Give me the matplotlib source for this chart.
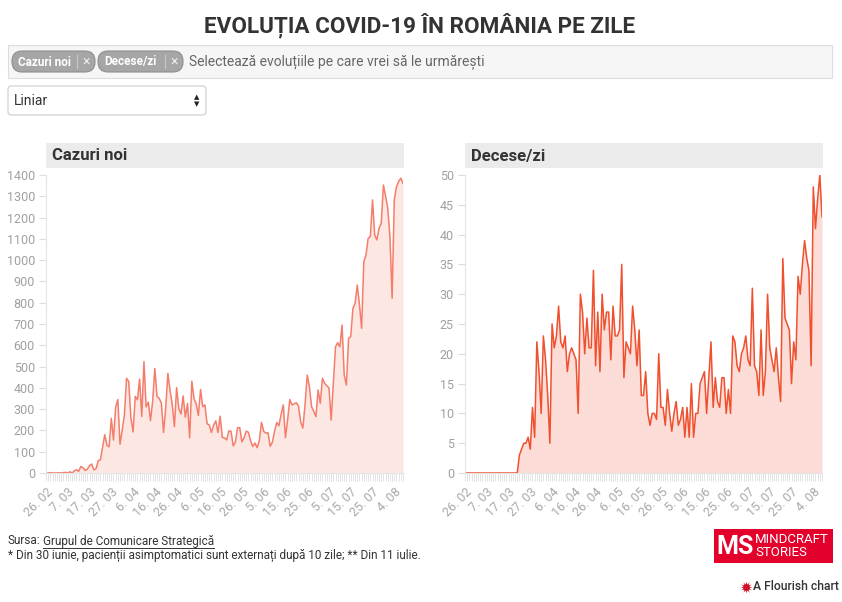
import numpy as np
import pandas as pd
import matplotlib
matplotlib.use("Agg")
import matplotlib.pyplot as plt
from matplotlib.patches import Rectangle, FancyBboxPatch

plt.rcParams['font.family'] = ['Roboto', 'DejaVu Sans']

# date zilnice, 26.02 - 8.08
start_date = "2020-02-26"

cazuri_noi = [
    1, 0, 2, 0, 0, 0, 1, 0, 2, 3,
    0, 6, 0, 10, 15, 8, 30, 25, 12, 18,
    35, 42, 15, 20, 58, 62, 120, 180, 130, 123,
    257, 155, 310, 345, 135, 200, 270, 445, 430, 260,
    193, 360, 344, 441, 265, 523, 310, 333, 246, 337,
    491, 360, 351, 328, 190, 306, 468, 386, 321, 218,
    401, 303, 277, 362, 262, 327, 165, 431, 349, 325,
    270, 392, 312, 320, 231, 226, 190, 224, 245, 190,
    267, 167, 165, 155, 198, 196, 127, 145, 213, 213,
    146, 165, 197, 191, 151, 124, 141, 119, 152, 238,
    196, 187, 189, 125, 145, 196, 237, 222, 275, 320,
    166, 250, 345, 320, 325, 330, 315, 240, 211, 320,
    460, 406, 312, 290, 265, 390, 327, 445, 421, 410,
    400, 249, 420, 593, 612, 593, 695, 460, 413, 633,
    641, 774, 797, 883, 790, 680, 993, 1024, 1103, 1110,
    1283, 1118, 1095, 1150, 1173, 1353, 1300, 1244, 1110, 821,
    1283, 1345, 1370, 1385, 1360,
]

decese_zi = [
    0, 0, 0, 0, 0, 0, 0, 0, 0, 0,
    0, 0, 0, 0, 0, 0, 0, 0, 0, 0,
    0, 0, 0, 0, 0, 3, 4, 5, 5, 6,
    4, 11, 6, 22, 17, 10, 23, 19, 13, 5,
    25, 21, 23, 28, 22, 21, 23, 17, 20, 21,
    20, 19, 10, 30, 27, 20, 26, 21, 21, 34,
    18, 27, 17, 30, 24, 27, 27, 19, 28, 23,
    23, 24, 35, 16, 22, 21, 20, 28, 24, 18,
    24, 13, 13, 17, 10, 8, 10, 10, 9, 20,
    11, 11, 8, 14, 10, 7, 10, 12, 8, 9,
    11, 6, 11, 6, 15, 6, 10, 10, 15, 16,
    17, 10, 16, 22, 11, 16, 12, 11, 16, 16,
    10, 14, 10, 23, 22, 18, 17, 20, 21, 23,
    19, 18, 31, 18, 17, 13, 24, 13, 17, 30,
    21, 19, 17, 21, 16, 12, 36, 26, 25, 24,
    15, 22, 19, 33, 30, 35, 39, 36, 34, 18,
    48, 41, 46, 50, 43,
]

W, H = 842, 602
fig = plt.figure(figsize=(W / 100, H / 100), dpi=100)
fig.patch.set_facecolor('white')


def box(x, y, w, h):
    # pixel box (top-left origin) -> figure fraction
    return [x / W, 1 - (y + h) / H, w / W, h / H]


bg = fig.add_axes([0, 0, 1, 1])
bg.set_xlim(0, W)
bg.set_ylim(H, 0)
bg.axis('off')

# titlu
bg.text(W / 2 - 1, 25, "EVOLUȚIA COVID-19 ÎN ROMÂNIA PE ZILE", ha='center', va='center',
        fontsize=16.2, fontweight='bold', color='#333333')

# caseta de filtrare
bg.add_patch(Rectangle((8, 45), 824, 33, facecolor='#f6f6f6', edgecolor='#dddddd', lw=0.8))
pills = [("Cazuri noi", 12, 83), ("Decese/zi", 98, 85)]
for label, px, pw in pills:
    bg.add_patch(FancyBboxPatch((px, 51), pw, 21, boxstyle="round,pad=0,rounding_size=10",
                                facecolor='#a6a6a6', edgecolor='#8f8f8f', lw=0.8))
    bg.text(px + 6, 62, label, ha='left', va='center', fontsize=8.5,
            fontweight='bold', color='white')
    bg.plot([px + pw - 18, px + pw - 18], [55, 68], color='#c8c8c8', lw=0.8)
    bg.text(px + pw - 9, 61.5, "×", ha='center', va='center', fontsize=10, color='#eeeeee')
bg.text(189, 62, "Selectează evoluțiile pe care vrei să le urmărești", ha='left', va='center',
        fontsize=10, color='#666666')

# dropdown
bg.add_patch(FancyBboxPatch((8, 86), 198, 29, boxstyle="round,pad=0,rounding_size=3",
                            facecolor='white', edgecolor='#cccccc', lw=0.8))
bg.text(14, 101, "Liniar", ha='left', va='center', fontsize=10, color='#333333')
bg.text(197, 97.5, "▲", ha='center', va='center', fontsize=5, color='#222222', family='DejaVu Sans')
bg.text(197, 104, "▼", ha='center', va='center', fontsize=5, color='#222222', family='DejaVu Sans')


def draw_panel(x0, title, values, ymax, ystep, line_col, fill_col):
    bg.add_patch(Rectangle((x0, 143), 358, 25, facecolor='#ebebeb', lw=0))
    bg.text(x0 + 6, 156, title, ha='left', va='center', fontsize=12,
            fontweight='bold', color='#333333')

    ax = fig.add_axes(box(x0, 175, 357, 298))
    days = np.arange(len(values))
    dates = pd.date_range(start_date, periods=len(values))
    ax.fill_between(days, values, color=fill_col, lw=0)
    ax.plot(days, values, color=line_col, lw=1.1)
    ax.set_xlim(0, len(values) - 1)
    ax.set_ylim(0, ymax)

    ax.set_yticks(np.arange(0, ymax + 1, ystep))
    major = days[::10]
    ax.set_xticks(major)
    ax.set_xticklabels([f"{d.day}. {d.month:02d}" for d in dates[::10]],
                       rotation=45, ha='right', va='top', rotation_mode='anchor')
    ax.set_xticks(days, minor=True)

    ax.tick_params(axis='y', length=5, color='#dddddd', labelcolor='#a0a0a0',
                   labelsize=9, pad=3)
    ax.tick_params(axis='x', which='both', length=6, width=0.6, color='#dedede',
                   labelcolor='#a8a8a8', labelsize=9, pad=3)
    for side in ('top', 'right'):
        ax.spines[side].set_visible(False)
    for side in ('left', 'bottom'):
        ax.spines[side].set_color('#e4e4e4')
        ax.spines[side].set_linewidth(0.8)
    ax.set_facecolor('none')
    return ax


draw_panel(46, "Cazuri noi", cazuri_noi, 1400, 100, '#f47d6b', '#fce7e3')
draw_panel(465, "Decese/zi", decese_zi, 50, 5, '#f0502e', '#fbdcd7')

# note de subsol
bg.text(8, 541, "Sursa:", ha='left', va='center', fontsize=8.5, color='#333333')
src = bg.text(43, 541, "Grupul de Comunicare Strategică", ha='left', va='center',
              fontsize=8.5, color='#333333')
bg.text(8, 555, "* Din 30 iunie, pacienții asimptomatici sunt externați după 10 zile; ** Din 11 iulie.",
        ha='left', va='center', fontsize=8.5, color='#333333')

fig.canvas.draw()
ext = src.get_window_extent()
bg.plot([43, 43 + ext.width], [547.5, 547.5], color='#333333', lw=0.7)

# logo
bg.add_patch(Rectangle((714, 529), 119, 34, facecolor='#e3002b', lw=0))
bg.text(735, 546.5, "MS", ha='center', va='center', fontsize=18, fontweight='bold',
        color='white')
bg.text(755, 539.5, "MINDCRAFT", ha='left', va='center', fontsize=9.5, color='white')
bg.text(755, 553, "STORIES", ha='left', va='center', fontsize=9.5, color='white')

# flourish
bg.scatter([746], [587], s=75, marker=(12, 1, 0), color='#e8313b', lw=0)
bg.scatter([746], [587], s=22, marker='o', color='#c8102e', lw=0)
bg.text(753, 587, "A Flourish chart", ha='left', va='center', fontsize=8.7,
        fontweight='medium', color='#333333')

fig.savefig("out.png", dpi=100)
